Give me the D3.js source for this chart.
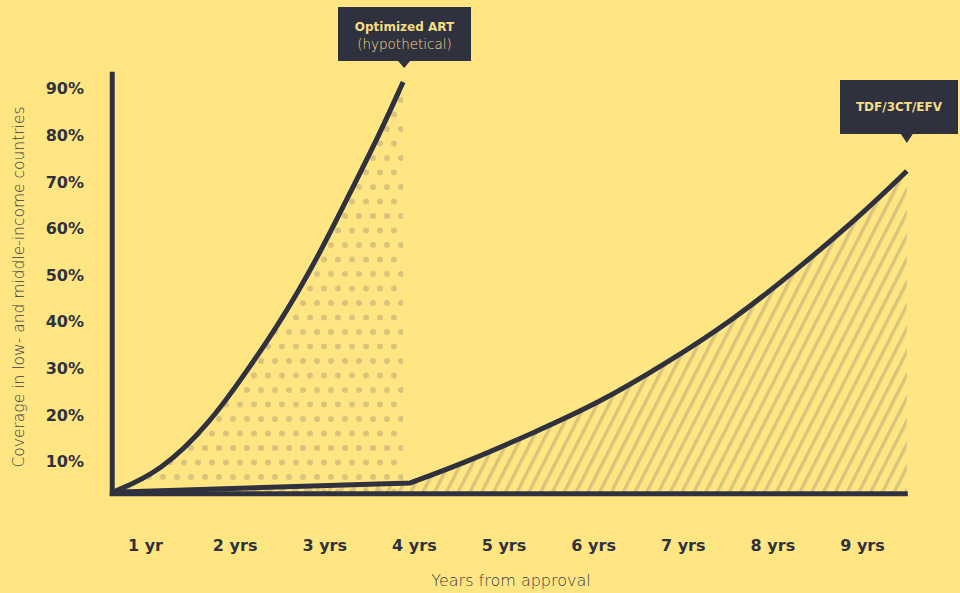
<!DOCTYPE html>
<html>
<head>
<meta charset="utf-8">
<script src="https://cdn.jsdelivr.net/npm/d3@7"></script>
<style>
  html, body { margin: 0; padding: 0; background: #FFE682; }
  svg { display: block; }
</style>
</head>
<body>
<svg id="chart" width="960" height="593"></svg>
<script>
// ---- data ----
const yearTicks = [1, 2, 3, 4, 5, 6, 7, 8, 9];
const yearLabels = ["1 yr", "2 yrs", "3 yrs", "4 yrs", "5 yrs", "6 yrs", "7 yrs", "8 yrs", "9 yrs"];
const coverageTicks = [10, 20, 30, 40, 50, 60, 70, 80, 90];

const optimizedYears = [0.64, 1.17, 1.73, 2.17, 2.47, 2.70, 2.97, 3.29, 3.62, 3.88];
const optimizedCoverage = [3.3, 7.6, 18.2, 30.2, 38.8, 46.0, 55.3, 67.6, 80.2, 91.3];

const tdfYears = [0.64, 3.96, 4.59, 5.33, 6.08, 6.82, 7.56, 8.31, 9.05, 9.50];
const tdfCoverage = [3.3, 5.3, 9.8, 16.0, 22.6, 31.0, 40.2, 51.6, 63.8, 72.2];

const baselineValue = 3.1;
const axisTopValue = 93.5;
const axisStartYear = 0.64;
const axisEndYear = 9.5;

const seriesLabels = { optimized: ["Optimized ART", "(hypothetical)"], tdf: ["TDF/3CT/EFV"] };

// ---- setup ----
const BG = "#FFE682", DARK = "#30313F", PATTERN = "#D9C47C", LABEL = "#F3DD85";
const FONT = "'DejaVu Sans', sans-serif";
const svg = d3.select("#chart");
const x = d3.scaleLinear().domain([1, 9]).range([145, 862]);
const y = d3.scaleLinear().domain([0, 90]).range([507.6, 88]);

svg.append("rect").attr("width", 960).attr("height", 593).attr("fill", BG);

const defs = svg.append("defs");
const dots = defs.append("pattern").attr("id", "dots")
  .attr("patternUnits", "userSpaceOnUse").attr("width", 14).attr("height", 29)
  .attr("x", 2).attr("y", 6);
[[7, 7], [0, 21.5], [14, 21.5]].forEach(([cx, cy]) =>
  dots.append("circle").attr("cx", cx).attr("cy", cy).attr("r", 3).attr("fill", PATTERN));

const hatch = defs.append("pattern").attr("id", "hatch")
  .attr("patternUnits", "userSpaceOnUse").attr("width", 10.5).attr("height", 20)
  .attr("patternTransform", "rotate(27)");
hatch.append("rect").attr("x", 0).attr("y", 0).attr("width", 3.4).attr("height", 20).attr("fill", PATTERN);

const optData = optimizedYears.map((v, i) => ({ yr: v, c: optimizedCoverage[i] }));
const tdfData = tdfYears.map((v, i) => ({ yr: v, c: tdfCoverage[i] }));

const smooth = d3.line().x(d => x(d.yr)).y(d => y(d.c)).curve(d3.curveBasis);
const straight = d3.line().x(d => x(d.yr)).y(d => y(d.c));

const optPath = smooth(optData);
// TDF: straight first leg, then smooth curve from the kink
const tdfPath = straight(tdfData.slice(0, 2)) + smooth(tdfData.slice(1)).replace(/^M/, "L");

function closeToBase(pathStr, data) {
  const first = data[0], last = data[data.length - 1];
  return pathStr + `L${x(last.yr)},${y(baselineValue)}L${x(first.yr)},${y(baselineValue)}Z`;
}

svg.append("path").attr("d", closeToBase(optPath, optData)).attr("fill", "url(#dots)");
svg.append("path").attr("d", closeToBase(tdfPath, tdfData)).attr("fill", "url(#hatch)");

svg.append("path").attr("d", optPath).attr("fill", "none")
  .attr("stroke", DARK).attr("stroke-width", 5).attr("stroke-linejoin", "round");
svg.append("path").attr("d", tdfPath).attr("fill", "none")
  .attr("stroke", DARK).attr("stroke-width", 5).attr("stroke-linejoin", "miter");

// axis lines
svg.append("line")
  .attr("x1", x(axisStartYear) - 0.5).attr("x2", x(axisStartYear) - 0.5)
  .attr("y1", y(axisTopValue)).attr("y2", y(baselineValue) + 2.5)
  .attr("stroke", DARK).attr("stroke-width", 5);
svg.append("line")
  .attr("x1", x(axisStartYear) - 3).attr("x2", x(axisEndYear) + 1)
  .attr("y1", y(baselineValue) + 0.5).attr("y2", y(baselineValue) + 0.5)
  .attr("stroke", DARK).attr("stroke-width", 5);

// y axis ticks
const yAxis = d3.axisLeft(y).tickValues(coverageTicks).tickSize(0).tickPadding(0)
  .tickFormat(d => d + "%");
const yg = svg.append("g").attr("transform", "translate(84,0)").call(yAxis);
yg.select(".domain").remove();
yg.selectAll("text").attr("fill", DARK).attr("font-family", FONT)
  .attr("font-weight", 700).attr("font-size", 16).attr("dy", "0.36em");

// x axis ticks
const xAxis = d3.axisBottom(x).tickValues(yearTicks).tickSize(0).tickPadding(0)
  .tickFormat((d, i) => yearLabels[i]);
const xg = svg.append("g").attr("transform", "translate(0,551)").call(xAxis);
xg.select(".domain").remove();
xg.selectAll("text").attr("fill", DARK).attr("font-family", FONT)
  .attr("font-weight", 700).attr("font-size", 16).attr("dy", 0);

// axis titles
svg.append("text").attr("transform", "translate(24,287) rotate(-90)")
  .attr("text-anchor", "middle").attr("fill", "#3A3B48")
  .attr("font-family", FONT).attr("font-weight", 300).attr("font-size", 15.5)
  .text("Coverage in low- and middle-income countries");
svg.append("text").attr("x", 511).attr("y", 586)
  .attr("text-anchor", "middle").attr("fill", "#3A3B48")
  .attr("font-family", FONT).attr("font-weight", 300).attr("font-size", 16)
  .text("Years from approval");

// callouts
function callout(px, tipY, boxX, boxY, boxW, boxH, lines) {
  const g = svg.append("g");
  g.append("rect").attr("x", boxX).attr("y", boxY).attr("width", boxW).attr("height", boxH).attr("fill", DARK);
  g.append("path").attr("d", `M${px - 6},${boxY + boxH} L${px + 6},${boxY + boxH} L${px},${tipY} Z`).attr("fill", DARK);
  lines.forEach((t, i) => {
    g.append("text").attr("x", boxX + boxW / 2).attr("y", boxY + (lines.length === 1 ? boxH / 2 + 4 : 24 + i * 18))
      .attr("text-anchor", "middle").attr("fill", LABEL)
      .attr("font-family", FONT).attr("font-weight", i === 0 ? 700 : 300)
      .attr("font-size", i === 0 ? 12 : 13.5).text(t);
  });
}
const optEnd = optData[optData.length - 1];
const tdfEnd = tdfData[tdfData.length - 1];
callout(x(optEnd.yr) + 1, 68, 338, 7, 133, 54, seriesLabels.optimized);
callout(x(tdfEnd.yr), 143, 840, 80, 118, 54, seriesLabels.tdf);
</script>
</body>
</html>
